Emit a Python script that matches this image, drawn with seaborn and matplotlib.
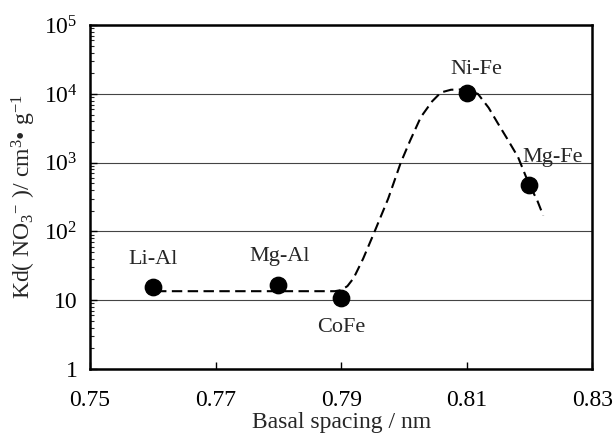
import numpy as np
import pandas as pd
import matplotlib
matplotlib.use("Agg")
import matplotlib.pyplot as plt
import matplotlib.ticker as mticker
import seaborn as sns

# measured points
samples = ["Li-Al", "Mg-Al", "CoFe", "Ni-Fe", "Mg-Fe"]
spacing = [0.76, 0.78, 0.79, 0.81, 0.82]
kd = [15.5, 16.5, 10.8, 10300, 470]

# dashed guide curve
curve_x = [0.7605, 0.765, 0.770, 0.775, 0.780, 0.785, 0.789, 0.790, 0.791, 0.792,
           0.7935, 0.7952, 0.7975, 0.7995, 0.801, 0.8027, 0.8045, 0.8059, 0.8075,
           0.809, 0.8099, 0.8118, 0.8135, 0.815, 0.8165, 0.8182, 0.820, 0.8212, 0.8222]
curve_y = [13.5, 13.5, 13.5, 13.5, 13.5, 13.5, 13.5, 14.0, 16.0, 21.0,
           40, 93, 300, 1000, 2100, 4600, 7800, 10500, 11500,
           11600, 11500, 10000, 6300, 3700, 2200, 1200, 470, 290, 170]

label_offsets = {"Li-Al": (0, 20), "Mg-Al": (1, 21), "CoFe": (0, -21),
                 "Ni-Fe": (7, 17), "Mg-Fe": (17, 20)}

sns.set_style("white")
plt.rcParams["font.family"] = ["Liberation Serif", "DejaVu Serif"]
plt.rcParams["mathtext.fontset"] = "custom"
plt.rcParams["mathtext.rm"] = "Liberation Serif"
plt.rcParams["mathtext.it"] = "Liberation Serif:italic"

fig = plt.figure(figsize=(6.13, 4.34), dpi=100)
ax = fig.add_axes([0.147, 0.150, 0.819, 0.792])

df = pd.DataFrame({"x": spacing, "y": kd, "name": samples})
curve = pd.DataFrame({"x": curve_x, "y": curve_y})

sns.lineplot(data=curve, x="x", y="y", ax=ax, color="black", lw=1.5,
             dashes=False, linestyle=(0, (5, 2.6)), zorder=3)
sns.scatterplot(data=df, x="x", y="y", ax=ax, color="black", s=140,
                edgecolor="black", zorder=4)

for _, r in df.iterrows():
    ax.annotate(r["name"], (r["x"], r["y"]), xytext=label_offsets[r["name"]],
                textcoords="offset points", ha="center", va="center", fontsize=16)

ax.set_yscale("log")
ax.set_xlim(0.75, 0.83)
ax.set_ylim(1, 1e5)
ax.set_xticks([0.75, 0.77, 0.79, 0.81, 0.83])
ax.xaxis.set_major_formatter(mticker.FormatStrFormatter("%.2f"))
ax.set_yticks([1, 10, 100, 1000, 1e4, 1e5])
ax.set_yticklabels(["1", "10", "$10^2$", "$10^3$", "$10^4$", "$10^5$"])
ax.yaxis.set_minor_locator(mticker.LogLocator(base=10, subs=np.arange(2, 10)))
ax.yaxis.set_minor_formatter(mticker.NullFormatter())

ax.grid(axis="y", which="major", color="#444444", lw=0.8)
ax.tick_params(axis="both", which="major", direction="in", length=5, width=1,
               labelsize=17, colors="black")
ax.tick_params(axis="x", which="major", pad=15, bottom=True)
ax.tick_params(axis="y", which="major", pad=9, left=True)
ax.tick_params(axis="y", which="minor", direction="in", length=3, width=0.8, left=True)

for sp in ax.spines.values():
    sp.set_color("black")
    sp.set_linewidth(1.8)

ax.set_xlabel("Basal spacing / nm", fontsize=17, labelpad=1)
ax.set_ylabel("Kd( NO$_3$$^{-}$ )/ cm$^3$• g$^{-1}$", fontsize=17, labelpad=4)

fig.savefig("out.png", dpi=100)
